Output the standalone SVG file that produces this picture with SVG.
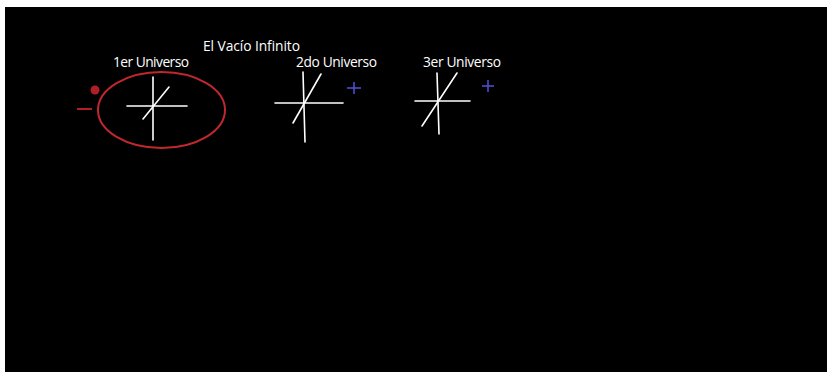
<svg xmlns="http://www.w3.org/2000/svg" width="827" height="372" viewBox="0 0 827 372">
<style>
text{font-family:"Open Sans","Noto Sans","DejaVu Sans",sans-serif;font-size:13.8px;fill:#ffffff}
.w{stroke:#ffffff;stroke-width:1.6;stroke-linecap:round;fill:none}
.b{stroke:#5050d8;stroke-width:1.5;fill:none}
.r{stroke:#c0282d;stroke-width:2;fill:none}
</style>
<rect x="0" y="0" width="827" height="372" fill="#ffffff"/>
<rect x="5" y="7" width="822" height="365" fill="#000000"/>
<g id="title"><text x="203" y="51" textLength="97">El Vacío Infinito</text></g>
<g id="u1">
<text x="113" y="67" textLength="76">1er Universo</text>
<ellipse class="r" cx="161.5" cy="110" rx="63.5" ry="38"/>
<circle cx="95" cy="90" r="4.5" fill="#b01e28"/>
<line x1="77" y1="109" x2="92" y2="109" stroke="#b01e28" stroke-width="2"/>
<line class="w" x1="153" y1="77" x2="153" y2="140"/>
<line class="w" x1="127" y1="106" x2="187" y2="106"/>
<line class="w" x1="143" y1="119" x2="169" y2="87"/>
</g>
<g id="u2">
<text x="296" y="67" textLength="81">2do Universo</text>
<line class="w" x1="303" y1="72" x2="305" y2="142"/>
<line class="w" x1="275" y1="103" x2="343" y2="103"/>
<line class="w" x1="293" y1="123" x2="321" y2="74"/>
<path class="b" d="M347 88h14M354 82v12"/>
</g>
<g id="u3">
<text x="423" y="67" textLength="78">3er Universo</text>
<line class="w" x1="437" y1="73" x2="439" y2="134"/>
<line class="w" x1="415" y1="101" x2="470" y2="101"/>
<line class="w" x1="422" y1="126" x2="457" y2="73"/>
<path class="b" d="M482 86h12M488 80v12"/>
</g>
</svg>
